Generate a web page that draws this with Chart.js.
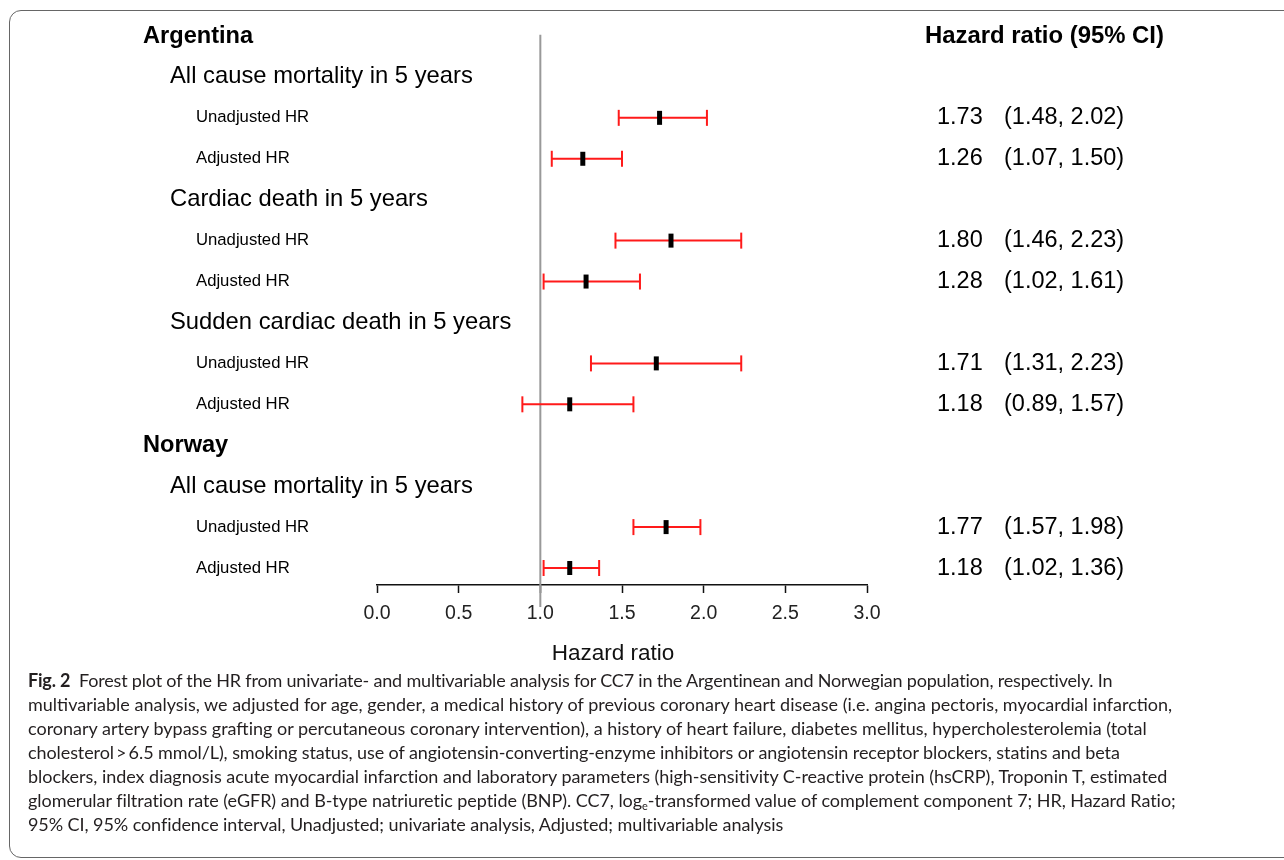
<!DOCTYPE html>
<html>
<head>
<meta charset="utf-8">
<script src="https://cdn.jsdelivr.net/npm/chart.js@4.4.1/dist/chart.umd.min.js"></script>
<style>
  html, body { margin:0; padding:0; background:#fff; width:1284px; height:860px; overflow:hidden; }
  #frame { position:absolute; left:9px; top:10px; width:1320px; height:848px; border:1.5px solid #666; border-radius:12px; box-sizing:border-box; }
  #c { position:absolute; left:0; top:0; }
  #caption { position:absolute; left:28px; top:668px; font-family:Lato, "Open Sans", sans-serif; font-size:18px; line-height:24px; color:#231f20; white-space:nowrap; }
  #caption b { font-weight:700; font-size:18px; }
  #caption sub { font-size:11px; vertical-align:-3px; line-height:0; }
</style>
</head>
<body>
<div id="frame"></div>
<canvas id="c" width="1284" height="670"></canvas>
<div id="caption">
<span style="letter-spacing:-0.19px"><b>Fig. 2</b>&nbsp; Forest plot of the HR from univariate- and multivariable analysis for CC7 in the Argentinean and Norwegian population, respectively. In</span><br>
<span>multivariable analysis, we adjusted for age, gender, a medical history of previous coronary heart disease (i.e. angina pectoris, myocardial infarction,</span><br>
<span>coronary artery bypass grafting or percutaneous coronary intervention), a history of heart failure, diabetes mellitus, hypercholesterolemia (total</span><br>
<span style="letter-spacing:-0.09px">cholesterol&thinsp;&gt;&thinsp;6.5 mmol/L), smoking status, use of angiotensin-converting-enzyme inhibitors or angiotensin receptor blockers, statins and beta</span><br>
<span style="letter-spacing:-0.035px">blockers, index diagnosis acute myocardial infarction and laboratory parameters (high-sensitivity C-reactive protein (hsCRP), Troponin T, estimated</span><br>
<span style="letter-spacing:-0.05px">glomerular filtration rate (eGFR) and B-type natriuretic peptide (BNP). CC7, log<sub>e</sub>-transformed value of complement component 7; HR, Hazard Ratio;</span><br>
<span style="letter-spacing:-0.08px">95% CI, 95% confidence interval, Unadjusted; univariate analysis, Adjusted; multivariable analysis</span>
</div>
<script>
// ---- data ----
const rowLabels = ["Argentina","All cause mortality in 5 years","Unadjusted HR","Adjusted HR",
  "Cardiac death in 5 years","Unadjusted HR","Adjusted HR",
  "Sudden cardiac death in 5 years","Unadjusted HR","Adjusted HR",
  "Norway","All cause mortality in 5 years","Unadjusted HR","Adjusted HR"];
const rowLevel = [0,1,2,2,1,2,2,1,2,2,0,1,2,2];
const estRows = [2,3,5,6,8,9,12,13];
const hr    = [1.73,1.26,1.80,1.28,1.71,1.18,1.77,1.18];
const lower = [1.48,1.07,1.46,1.02,1.31,0.89,1.57,1.02];
const upper = [2.02,1.50,2.23,1.61,2.23,1.57,1.98,1.36];
const xTicks = [0,0.5,1,1.5,2,2.5,3];
const refValue = 1;
const colHeader = "Hazard ratio (95% CI)";
const xTitle = "Hazard ratio";

const FONT = '"Liberation Sans", Arial, sans-serif';

// whisker line segments separated by gaps
const whiskers = [];
estRows.forEach((r,i)=>{ whiskers.push({x:lower[i],y:r},{x:upper[i],y:r},{x:null,y:null}); });
const caps = [];
estRows.forEach((r,i)=>{ caps.push({x:lower[i],y:r},{x:upper[i],y:r}); });
const points = estRows.map((r,i)=>({x:hr[i],y:r}));

const labelPlugin = {
  id:'labels',
  afterDraw(chart){
    const ctx = chart.ctx, ys = chart.scales.y, xs = chart.scales.x;
    ctx.save();
    ctx.fillStyle = '#000';
    ctx.textBaseline = 'middle';
    ctx.textAlign = 'left';
    rowLabels.forEach((t,i)=>{
      const y = ys.getPixelForValue(i);
      const lv = rowLevel[i];
      if (lv===0){ ctx.font = 'bold 23.6px '+FONT; ctx.fillText(t,143,y); }
      else if (lv===1){ ctx.font = '23.8px '+FONT; ctx.fillText(t,170,y); }
      else { ctx.font = '16.7px '+FONT; ctx.fillText(t,196,y); }
    });
    ctx.font = 'bold 23.9px '+FONT;
    ctx.fillText(colHeader, 925, ys.getPixelForValue(0));
    ctx.font = '23.5px '+FONT;
    estRows.forEach((r,i)=>{
      const y = ys.getPixelForValue(r);
      ctx.fillText(hr[i].toFixed(2), 937, y);
      ctx.fillText('('+lower[i].toFixed(2)+', '+upper[i].toFixed(2)+')', 1004, y);
    });
    // axis title
    ctx.textAlign = 'center';
    ctx.font = '22.5px '+FONT;
    ctx.fillStyle = '#111';
    ctx.fillText(xTitle, xs.getPixelForValue(1.445), 654);
    ctx.restore();
  }
};

new Chart(document.getElementById('c'), {
  type:'scatter',
  data:{ datasets:[
    { type:'scatter', data:points, pointStyle:'line', rotation:90, pointRadius:7, borderColor:'#000', backgroundColor:'#000', pointBorderWidth:5, borderWidth:5, pointHoverRadius:7 },
    { type:'scatter', data:caps, pointStyle:'line', rotation:90, pointRadius:8, borderColor:'#ff1a1a', pointBorderWidth:2, borderWidth:2 },
    { type:'line', data:whiskers, borderColor:'#ff1a1a', borderWidth:2, pointRadius:0, spanGaps:false, showLine:true, fill:false },
    { type:'line', data:[{x:refValue,y:-0.03},{x:refValue,y:13.95}], borderColor:'#999', borderWidth:2, pointRadius:0, clip:false, showLine:true }
  ]},
  options:{
    responsive:false, animation:false, devicePixelRatio:1,
    layout:{ padding:{ left:377, right:417, top:20, bottom:0 } },
    plugins:{ legend:{display:false}, tooltip:{enabled:false} },
    scales:{
      y:{ type:'linear', reverse:true, min:-0.391, max:13.415, display:false },
      x:{ type:'linear', min:0, max:3,
        afterFit(s){ s.height = 85; },
        afterBuildTicks(s){ s.ticks = xTicks.map(v=>({value:v})); },
        ticks:{ callback:v=>Number(v).toFixed(1), font:{family:FONT,size:19.5}, color:'#222', padding:9, maxRotation:0, autoSkip:false },
        grid:{ drawOnChartArea:false, drawTicks:true, tickLength:8, color:'#111', tickWidth:1.5 },
        border:{ display:true, color:'#111', width:1.5 },
        title:{ display:false }
      }
    }
  },
  plugins:[labelPlugin]
});
</script>
</body>
</html>
